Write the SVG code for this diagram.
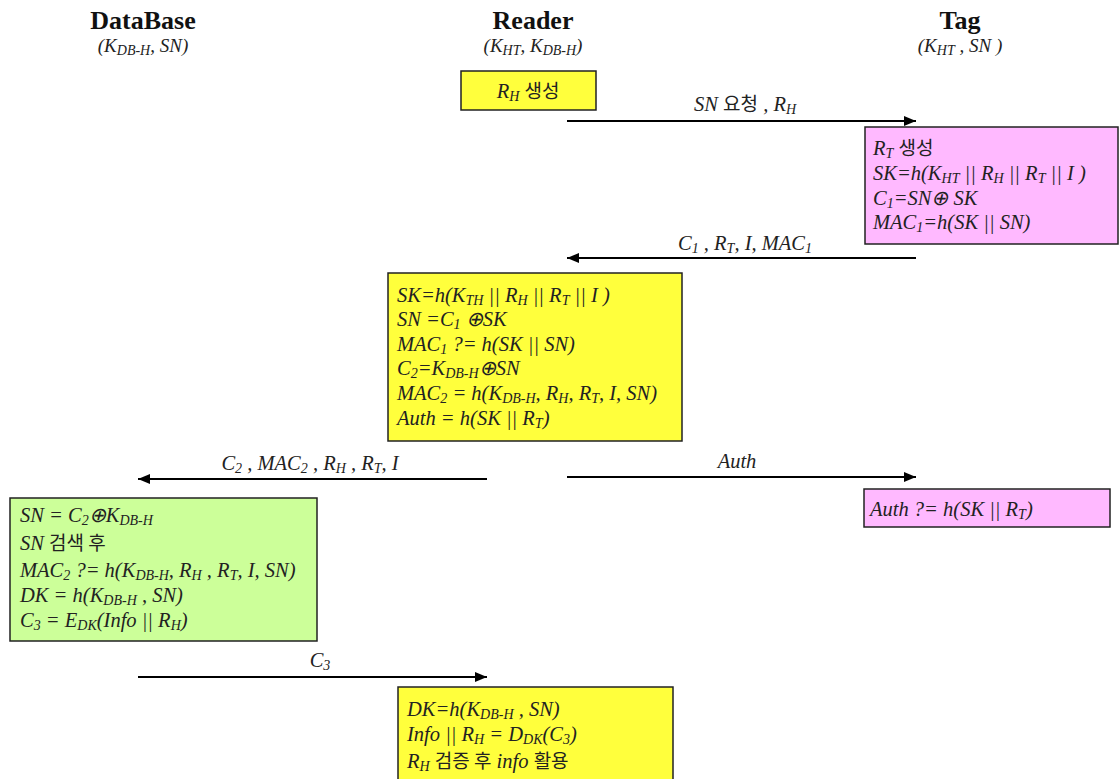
<svg xmlns="http://www.w3.org/2000/svg" width="1120" height="779" viewBox="0 0 1120 779">
<defs>
<marker id="ah" viewBox="0 0 12 10" refX="12" refY="5" markerWidth="12" markerHeight="10" markerUnits="userSpaceOnUse" orient="auto">
<path d="M0,0 L12,5 L0,10 Z" fill="#000"/>
</marker>
<style>
.hd{font-family:"Liberation Serif",serif;font-weight:bold;font-size:26px;fill:#111;text-anchor:middle}
.t{font-family:"Liberation Serif",serif;font-style:italic;font-size:20.5px;fill:#222}
.hs{font-size:19px;text-anchor:middle}
.s{font-size:14px;baseline-shift:-3px}
.k{font-family:"Noto Sans CJK KR",sans-serif;font-style:normal;font-size:19px}
.y{fill:#FFFF3C;stroke:#222;stroke-width:1.5}
.p{fill:#FFB9FF;stroke:#222;stroke-width:1.5}
.g{fill:#CCFF99;stroke:#222;stroke-width:1.5}
.ln{stroke:#000;stroke-width:2;fill:none;marker-end:url(#ah)}
</style>
</defs>
<rect width="1120" height="779" fill="#fff"/>

<g id="db-head">
<text class="hd" x="143" y="29">DataBase</text>
<text class="t hs" x="143" y="52">(K<tspan class="s">DB-H</tspan>, SN)</text>
</g>
<g id="reader-head">
<text class="hd" x="533" y="29">Reader</text>
<text class="t hs" x="533" y="52">(K<tspan class="s">HT</tspan>, K<tspan class="s">DB-H</tspan>)</text>
</g>
<g id="tag-head">
<text class="hd" x="960" y="29">Tag</text>
<text class="t hs" x="960" y="52">(K<tspan class="s">HT</tspan> , SN )</text>
</g>

<g id="n-rh">
<rect class="y" x="461" y="71" width="135" height="39"/>
<text class="t" x="528" y="98" text-anchor="middle">R<tspan class="s">H</tspan> <tspan class="k">생성</tspan></text>
</g>

<g id="n-tag1">
<rect class="p" x="865" y="127" width="253" height="117"/>
<text class="t" x="873" y="155">R<tspan class="s">T</tspan> <tspan class="k">생성</tspan></text>
<text class="t" x="873" y="180">SK=h(K<tspan class="s">HT</tspan> || R<tspan class="s">H</tspan> || R<tspan class="s">T</tspan> || I )</text>
<text class="t" x="873" y="205">C<tspan class="s">1</tspan>=SN⊕ SK</text>
<text class="t" x="873" y="229">MAC<tspan class="s">1</tspan>=h(SK || SN)</text>
</g>

<g id="n-reader1">
<rect class="y" x="388" y="273" width="294" height="168"/>
<text class="t" x="397" y="302">SK=h(K<tspan class="s">TH</tspan> || R<tspan class="s">H</tspan> || R<tspan class="s">T</tspan> || I )</text>
<text class="t" x="397" y="326">SN =C<tspan class="s">1</tspan> ⊕SK</text>
<text class="t" x="397" y="351">MAC<tspan class="s">1</tspan> ?= h(SK || SN)</text>
<text class="t" x="397" y="375">C<tspan class="s">2</tspan>=K<tspan class="s">DB-H</tspan>⊕SN</text>
<text class="t" x="397" y="400">MAC<tspan class="s">2</tspan> = h(K<tspan class="s">DB-H</tspan>, R<tspan class="s">H</tspan>, R<tspan class="s">T</tspan>, I, SN)</text>
<text class="t" x="397" y="425">Auth = h(SK || R<tspan class="s">T</tspan>)</text>
</g>

<g id="n-tag2">
<rect class="p" x="864" y="489" width="246" height="38"/>
<text class="t" x="870" y="516">Auth  ?= h(SK || R<tspan class="s">T</tspan>)</text>
</g>

<g id="n-db">
<rect class="g" x="10" y="498" width="307" height="143"/>
<text class="t" x="20" y="522">SN = C<tspan class="s">2</tspan>⊕K<tspan class="s">DB-H</tspan></text>
<text class="t" x="20" y="550">SN  <tspan class="k">검색 후</tspan></text>
<text class="t" x="20" y="577">MAC<tspan class="s">2</tspan> ?= h(K<tspan class="s">DB-H</tspan>, R<tspan class="s">H</tspan> , R<tspan class="s">T</tspan>, I, SN)</text>
<text class="t" x="20" y="602">DK = h(K<tspan class="s">DB-H</tspan> , SN)</text>
<text class="t" x="20" y="627">C<tspan class="s">3</tspan> = E<tspan class="s">DK</tspan>(Info || R<tspan class="s">H</tspan>)</text>
</g>

<g id="n-reader2">
<rect class="y" x="398" y="687" width="275" height="100"/>
<text class="t" x="407" y="716">DK=h(K<tspan class="s">DB-H</tspan> , SN)</text>
<text class="t" x="407" y="741">Info || R<tspan class="s">H</tspan> = D<tspan class="s">DK</tspan>(C<tspan class="s">3</tspan>)</text>
<text class="t" x="407" y="768">R<tspan class="s">H</tspan>  <tspan class="k">검증 후</tspan> info <tspan class="k">활용</tspan></text>
</g>

<g id="connectors">
<line class="ln" x1="567" y1="121" x2="916" y2="121"/>
<text class="t" x="745" y="111" text-anchor="middle">SN <tspan class="k">요청</tspan> , R<tspan class="s">H</tspan></text>
<line class="ln" x1="916" y1="258" x2="567" y2="258"/>
<text class="t" x="745" y="250" text-anchor="middle">C<tspan class="s">1</tspan> , R<tspan class="s">T</tspan>, I, MAC<tspan class="s">1</tspan></text>
<line class="ln" x1="487" y1="479" x2="138" y2="479"/>
<text class="t" x="310" y="470" text-anchor="middle">C<tspan class="s">2</tspan> , MAC<tspan class="s">2</tspan> , R<tspan class="s">H</tspan> , R<tspan class="s">T</tspan>, I</text>
<line class="ln" x1="567" y1="477" x2="916" y2="477"/>
<text class="t" x="737" y="468" text-anchor="middle">Auth</text>
<line class="ln" x1="138" y1="677" x2="487" y2="677"/>
<text class="t" x="320" y="667" text-anchor="middle">C<tspan class="s">3</tspan></text>
</g>
</svg>
